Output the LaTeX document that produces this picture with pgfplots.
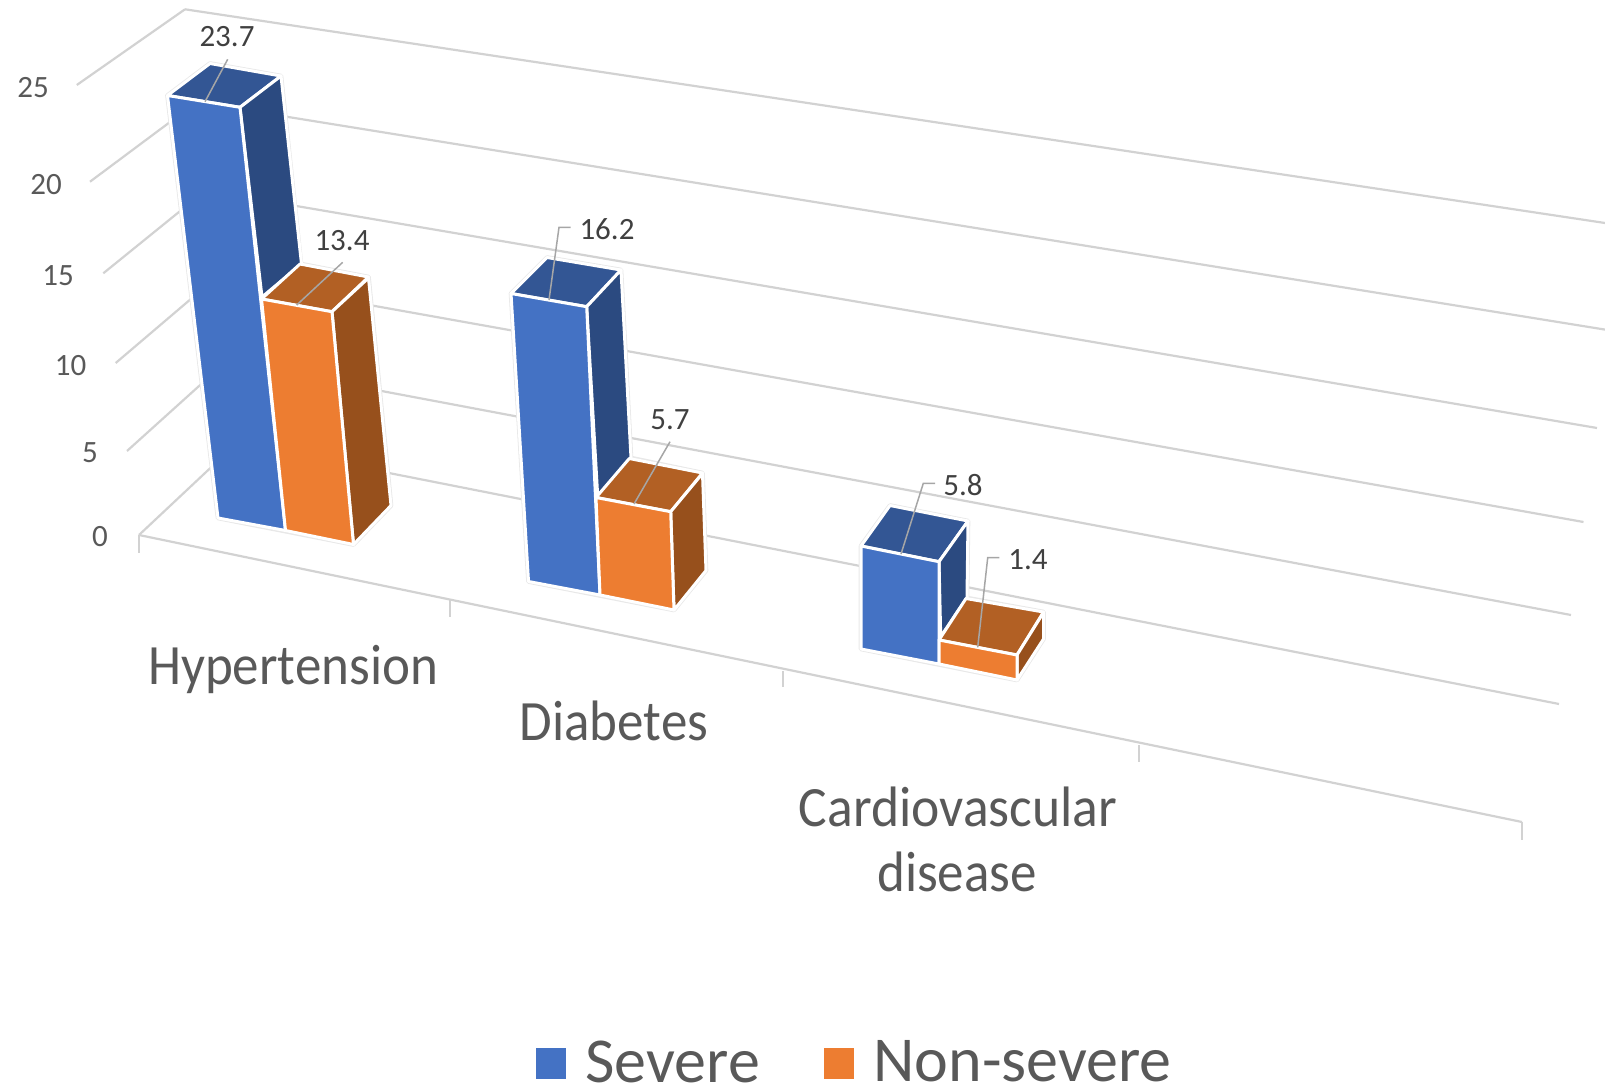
\documentclass[border=0pt]{standalone}
\usepackage{pgfplots}
\pgfplotsset{compat=1.18}
\usepackage{pgfplotstable}
\usepackage{fontspec}
\setmainfont{Carlito}
\definecolor{gridc}{HTML}{D2D2D2}
\definecolor{txt}{HTML}{595959}
\definecolor{lab}{HTML}{404040}
\definecolor{lead}{HTML}{A6A6A6}
\definecolor{bf}{HTML}{4472C4}
\definecolor{bs}{HTML}{2B4A80}
\definecolor{bt}{HTML}{335694}
\definecolor{of}{HTML}{ED7D31}
\definecolor{os}{HTML}{97501C}
\definecolor{ot}{HTML}{B26024}
% data labels: position in the picture plane and value
\pgfplotstableread{
x y value
227 37 23.7
342 241 13.4
607 229 16.2
670 419.2 5.7
963 485.5 5.8
1028 560 1.4
}\datalabels
\pgfplotstableread{
x y label
33 88 25
46 184.5 20
58 275.5 15
70.5 366 10
90 452.5 5
100 537 0
}\zlabels
\newcommand\grid[1]{\addplot[gridc,line width=2.2pt,forget plot] coordinates {#1};}
\newcommand\face[2]{\addplot[fill=#1,draw=white,line width=3pt,line join=round,line cap=round,forget plot] coordinates {#2};}
\newcommand\halo[1]{\addplot[draw=gray!18,line width=4.6pt,line join=round,line cap=round,forget plot] coordinates {#1};}
\newcommand\leader[1]{\addplot[lead,line width=1.5pt,forget plot] coordinates {#1};}
\newcommand\catlabel[3]{\node[text=txt,inner sep=0pt] at (axis cs:#1) {\scalebox{#3}[1]{\fontsize{57}{65}\selectfont #2}};}
\begin{document}
\begin{tikzpicture}
\useasboundingbox (0,0) rectangle (1605pt,1086pt);
\begin{axis}[
  at={(0,0)},anchor=south west,
  scale only axis,width=1605pt,height=1086pt,
  xmin=0,xmax=1605,ymin=0,ymax=1086,y dir=reverse,
  hide axis,clip=true,
  legend style={at={(axis cs:536,1062)},anchor=west,draw=none,fill=none,inner sep=0pt,outer sep=0pt,
    font=\fontsize{64}{70}\selectfont,text=txt,
    nodes={inner sep=0pt,outer sep=0pt},
    /tikz/every odd column/.append style={column sep=19.5pt},
    /tikz/every even column/.append style={column sep=64pt}},
  legend columns=-1,legend cell align=left,
  legend image code/.code={\fill[#1] (0pt,-17pt) rectangle (30pt,14pt);},
]
% back wall
\grid{(185,9.3)(1605,223)}
\grid{(196.6,102.2)(1605,329.6)}
\grid{(205.5,190.5)(1597,428)}
\grid{(216,277.6)(1583.5,522)}
\grid{(226,361.7)(1571,615)}
\grid{(237,443)(1559,704)}
% side wall
\grid{(76.8,85)(185,9.3)}
\grid{(90,181.7)(196.6,102.2)}
\grid{(103.3,273.3)(205.5,190.5)}
\grid{(115.7,363)(216,277.6)}
\grid{(127,451)(226,361.7)}
\grid{(139,535)(237,443)}
% floor front edge and ticks
\grid{(139,535)(1522,822)}
\grid{(139,535)(139,553)}
\grid{(450,600)(450,617)}
\grid{(783,670.5)(783,687)}
\grid{(1139,745)(1139,762)}
\grid{(1522,822)(1522,840)}
% Hypertension
\halo{(167.5,95.5)(210,63.5)(281,76)(301,264)(368.5,277)(391,505.5)(353.5,544.5)(218,518)(167.5,95.5)}
% Hypertension, Severe = 23.7
\face{bt}{(167.5,95.5)(240,107.3)(281,76)(210,63.5)(167.5,95.5)}
\face{bs}{(240,107.3)(281,76)(301.5,264)(262,297)(240,107.3)}
\face{bf}{(167.5,95.5)(240,107.3)(285.5,530.5)(218,518)(167.5,95.5)}
% Hypertension, Non-severe = 13.4
\face{ot}{(261.5,299)(332,311.7)(368.5,277)(300,264)(261.5,299)}
\face{os}{(332,311.7)(368.5,278)(391,505.5)(353.5,544.5)(332,311.7)}
\face{of}{(261.5,299)(332,311.7)(353.5,544.5)(285.5,530.5)(261.5,299)}
% Diabetes
\halo{(511,293.5)(547,257.5)(621,270)(631,458)(702.5,473)(706,570.5)(674,610)(528.5,581.5)(511,293.5)}
% Diabetes, Severe = 16.2
\face{bt}{(511,293.5)(586.7,306.7)(621,270)(547,257.5)(511,293.5)}
\face{bs}{(586.7,306.7)(621,270)(631,458)(597.7,496)(586.7,306.7)}
\face{bf}{(511,293.5)(586.7,306.7)(600,595)(528.5,581.5)(511,293.5)}
% Diabetes, Non-severe = 5.7
\face{ot}{(596,497.5)(670.7,511.7)(702.5,473)(629.3,458.5)(596,497.5)}
\face{os}{(670.7,511.7)(702.5,473.5)(706,570.5)(674,610)(670.7,511.7)}
\face{of}{(596,497.5)(670.7,511.7)(674,610)(600,595)(596,497.5)}
% Cardiovascular disease
\halo{(861,546)(890,505.5)(968,521)(967,598)(1043.5,612)(1043.5,639)(1017,680)(861,649)(861,546)}
% Cardiovascular disease, Severe = 5.8
\face{bt}{(861,546)(939,561.7)(968,521)(890,505.5)(861,546)}
\face{bs}{(939,561.7)(968,521)(967,597.5)(940.7,636.7)(939,561.7)}
\face{bf}{(861,546)(939,561.7)(939,664)(861,649)(861,546)}
% Cardiovascular disease, Non-severe = 1.4
\face{ot}{(939,640)(1017,655)(1043.5,612)(966,598.5)(939,640)}
\face{os}{(1017,655)(1043.5,612.5)(1043.5,639)(1017,680)(1017,655)}
\face{of}{(939,640)(1017,655)(1017,680)(939,664)(939,640)}
% leader lines
\leader{(227.7,59.3)(205,101.7)}
\leader{(342.7,262.3)(296.7,305)}
\leader{(570.7,227.3)(559,227.3)(549,300)}
\leader{(670,441.7)(634,504)}
\leader{(935,483.3)(923.3,483.3)(901,554)}
\leader{(999.3,557.7)(987.7,557.7)(977.7,647.3)}
% value labels
\addplot[draw=none,mark=none,forget plot,nodes near coords,point meta=explicit symbolic,
  every node near coord/.append style={anchor=center,inner sep=0pt,text=lab,font=\fontsize{31}{36}\selectfont}]
  table[x=x,y=y,meta=value] {\datalabels};
% vertical axis labels
\addplot[draw=none,mark=none,forget plot,nodes near coords,point meta=explicit symbolic,
  every node near coord/.append style={anchor=center,inner sep=0pt,text=txt,font=\fontsize{31}{36}\selectfont}]
  table[x=x,y=y,meta=label] {\zlabels};
% category labels
\catlabel{293,669}{Hypertension}{0.93}
\catlabel{614,721}{Diabetes}{0.93}
\catlabel{958,806.6}{Cardiovascular}{0.94}
\catlabel{957,871.5}{disease}{0.93}
% legend
\addlegendimage{fill=bf,draw=none}
\addlegendentry{Severe}
\addlegendimage{fill=of,draw=none}
\addlegendentry{Non-severe}
\end{axis}
\end{tikzpicture}
\end{document}
